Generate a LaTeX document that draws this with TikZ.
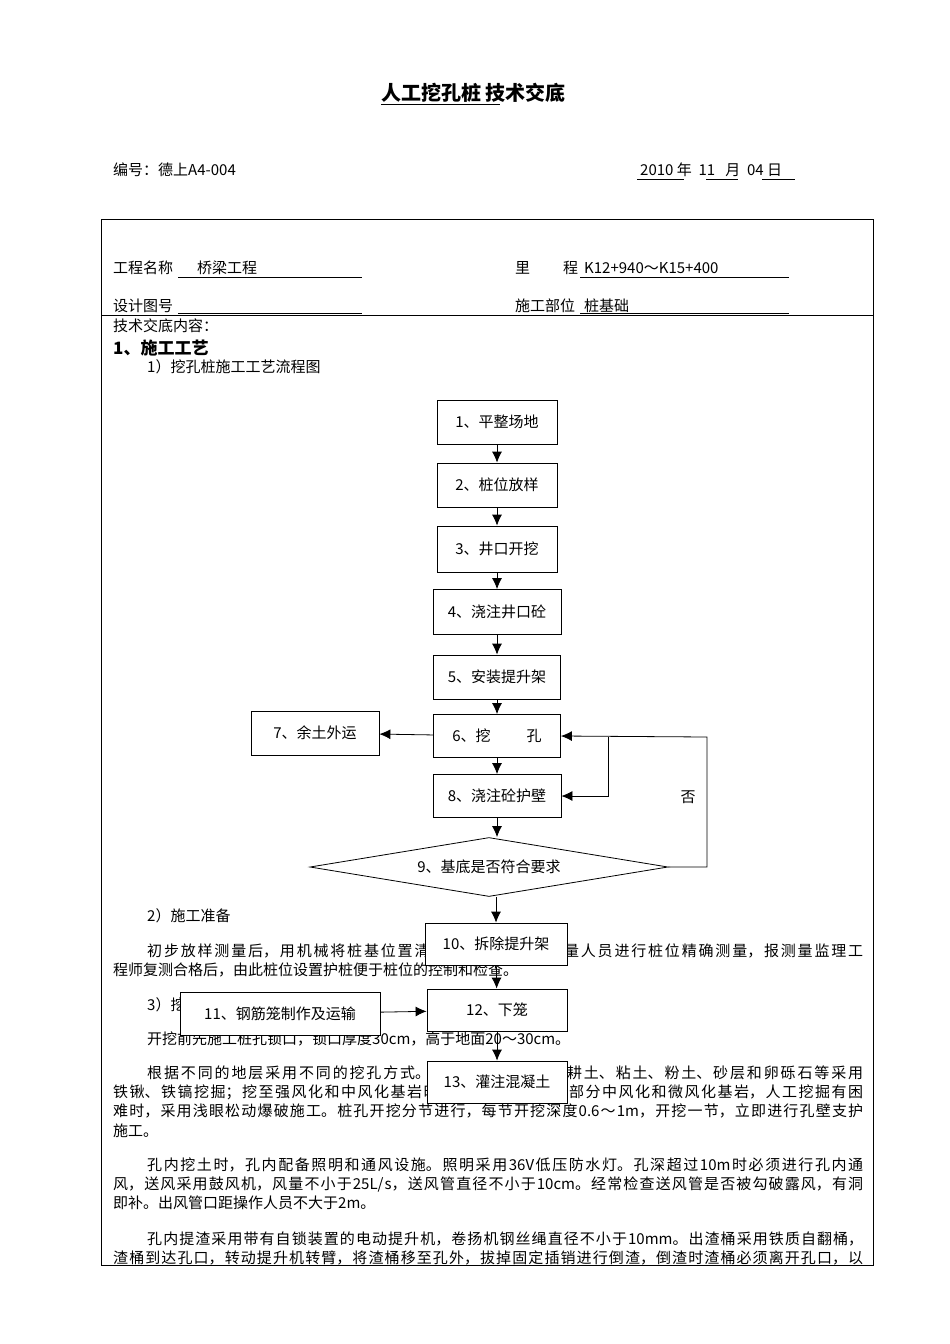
\documentclass[tikz,border=0pt]{standalone}
\usepackage{fontspec}
\setmainfont{Noto Sans CJK SC}
\XeTeXlinebreaklocale "zh"
\XeTeXlinebreakskip=0pt plus 3pt
\usetikzlibrary{arrows.meta, shapes.geometric}
\newcommand{\bodyline}[4]{\node[anchor=base west, inner sep=0pt, font=\fontsize{15}{18}\selectfont] (#1) at #2 {\parbox[b]{#3pt}{\parfillskip=0pt #4}};}
\begin{document}
\begin{tikzpicture}[x=1pt, y=-1pt,
  every node/.style={font=\fontsize{15}{18}\selectfont},
  txt/.style={anchor=base west, inner sep=0pt},
  stepbox/.style={draw, fill=white, line width=0.8pt, inner sep=0pt},
  decide/.style={draw, fill=white, diamond, aspect=5.2, line width=0.8pt, minimum width=358pt, minimum height=59pt, inner sep=0pt},
  arrow/.style={-{Latex[width=10pt,length=11pt]}, line width=0.8pt},
  line/.style={line width=0.8pt}
]
\useasboundingbox (0,0) rectangle (950,1344);

% Header
\node[txt, font=\fontsize{20}{24}\selectfont\bfseries] (title) at (381,100) {人工挖孔桩 技术交底};
\draw[line] (381,104) -- (500,104);
\node[txt] (code) at (113,175) {编号：德上A4-004};
\node[txt] (date) at (640,175) {2010\ 年\ \ 11\ \ \ 月\ \ 04\ 日};
\draw (637,179) -- (684,179) (706,179) -- (738,179) (762,179) -- (795,179);

% Table frame
\draw[line] (101,219) rectangle (873,1265);
\draw[line] (101,315) -- (873,315);
\node[txt] (name) at (113,273) {工程名称\hspace{24pt}桥梁工程};
\draw (178,277) -- (362,277) (580,277) -- (789,277);
\node[txt] (mile) at (515,273) {里\hspace{33pt}程\hspace{6pt}K12+940～K15+400};
\node[txt] (drawing) at (113,311) {设计图号};
\draw (178,313) -- (362,313) (580,313) -- (789,313);
\node[txt] (part) at (515,311) {施工部位\hspace{9pt}桩基础};
\node[txt] (content) at (113,331) {技术交底内容：};
\node[txt, font=\fontsize{17}{20}\selectfont\bfseries] (sec1) at (113,354) {1、施工工艺};
\node[txt] (sub1) at (147,372) {1）挖孔桩施工工艺流程图};

% Body text
\node[txt] (sub2) at (147,921) {2）施工准备};
\bodyline{p1a}{(147,956)}{716}{初步放样测量后，用机械将桩基位置清理平整，然后由测量人员进行桩位精确测量，报测量监理工}
\node[txt] (p1b) at (113,975) {程师复测合格后，由此桩位设置护桩便于桩位的控制和检查。};
\node[txt] (sub3) at (147,1010) {3）挖孔施工};
\node[txt] (p2) at (147,1044) {开挖前先施工桩孔锁口，锁口厚度30cm，高于地面20～30cm。};
\bodyline{p3a}{(147,1078)}{716}{根据不同的地层采用不同的挖孔方式。对于上部覆盖层的耕土、粘土、粉土、砂层和卵砾石等采用}
\bodyline{p3b}{(113,1097)}{750}{铁锹、铁镐挖掘；挖至强风化和中风化基岩时，采用风镐开凿；部分中风化和微风化基岩，人工挖掘有困}
\bodyline{p3c}{(113,1116)}{750}{难时，采用浅眼松动爆破施工。桩孔开挖分节进行，每节开挖深度0.6～1m，开挖一节，立即进行孔壁支护}
\node[txt] (p3d) at (113,1136) {施工。};
\bodyline{p4a}{(147,1170)}{716}{孔内挖土时，孔内配备照明和通风设施。照明采用36V低压防水灯。孔深超过10m时必须进行孔内通}
\bodyline{p4b}{(113,1189)}{750}{风，送风采用鼓风机，风量不小于25L/s，送风管直径不小于10cm。经常检查送风管是否被勾破露风，有洞}
\node[txt] (p4c) at (113,1208) {即补。出风管口距操作人员不大于2m。};
\bodyline{p5a}{(147,1244)}{716}{孔内提渣采用带有自锁装置的电动提升机，卷扬机钢丝绳直径不小于10mm。出渣桶采用铁质自翻桶，}
\bodyline{p5b}{(113,1263)}{750}{渣桶到达孔口，转动提升机转臂，将渣桶移至孔外，拔掉固定插销进行倒渣，倒渣时渣桶必须离开孔口，以}

% Flow chart
\node[stepbox, minimum width=120pt, minimum height=44pt] (s1) at (497,422) {1、平整场地};
\node[stepbox, minimum width=120pt, minimum height=44pt] (s2) at (497,485) {2、桩位放样};
\node[stepbox, minimum width=120pt, minimum height=46pt] (s3) at (497,549) {3、井口开挖};
\node[stepbox, minimum width=128pt, minimum height=45pt] (s4) at (497,612) {4、浇注井口砼};
\node[stepbox, minimum width=127pt, minimum height=44pt] (s5) at (497,677) {5、安装提升架};
\node[stepbox, minimum width=127pt, minimum height=43pt] (s6) at (497,736) {6、挖\hspace{36pt}孔};
\node[stepbox, minimum width=128pt, minimum height=44pt] (s7) at (315,733) {7、余土外运};
\node[stepbox, minimum width=128pt, minimum height=43pt] (s8) at (497,796) {8、浇注砼护壁};
\node[decide] (s9) at (489,867) {9、基底是否符合要求};
\node[stepbox, minimum width=142pt, minimum height=42pt] (s10) at (496,944) {10、拆除提升架};
\node[stepbox, minimum width=140pt, minimum height=42pt] (s12) at (497,1010) {12、下笼};
\node[stepbox, minimum width=200pt, minimum height=43pt] (s11) at (280,1014) {11、钢筋笼制作及运输};
\node[stepbox, minimum width=140pt, minimum height=42pt] (s13) at (497,1082) {13、灌注混凝土};
\node (no) at (688,797) {否};
\coordinate (fbtop) at (707,737);
\coordinate (fbsplit) at (608,737);

\draw[arrow] (s1) -- (s2);
\draw[arrow] (s2) -- (s3);
\draw[arrow] (s3) -- (s4);
\draw[arrow] (s4) -- (s5);
\draw[arrow] (s5) -- (s6);
\draw[arrow] (s6) -- (s7);
\draw[arrow] (s6) -- (s8);
\draw[arrow] (s8.south) -- (s8.south |- s9.north);
\draw[arrow] (s9.south -| s10.north) -- (s10.north);
\draw[arrow] (s10) -- (s12);
\draw[arrow] (s11) -- (s12);
\draw[arrow] (s12) -- (s13);
\draw[arrow] (s9.east) -| (fbtop) -- (s6.east);
\draw[arrow] (fbsplit) |- (s8.east);
\end{tikzpicture}
\end{document}
